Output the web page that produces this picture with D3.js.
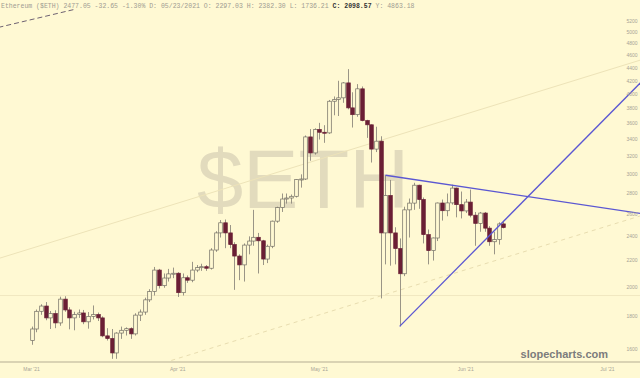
<!DOCTYPE html>
<html><head><meta charset="utf-8">
<script src="https://cdn.jsdelivr.net/npm/d3@7"></script>
<style>html,body{margin:0;padding:0;background:#fff9d3;}svg{display:block}</style>
</head><body><svg id="c" width="640" height="378"></svg>
<script>
// ---- data ----
const dates = [
"2021-03-06","2021-03-07","2021-03-08","2021-03-09","2021-03-10","2021-03-11","2021-03-12","2021-03-13","2021-03-14","2021-03-15",
"2021-03-16","2021-03-17","2021-03-18","2021-03-19","2021-03-20","2021-03-21","2021-03-22","2021-03-23","2021-03-24","2021-03-25",
"2021-03-26","2021-03-27","2021-03-28","2021-03-29","2021-03-30","2021-03-31","2021-04-01","2021-04-02","2021-04-03","2021-04-04",
"2021-04-05","2021-04-06","2021-04-07","2021-04-08","2021-04-09","2021-04-10","2021-04-11","2021-04-12","2021-04-13","2021-04-14",
"2021-04-15","2021-04-16","2021-04-17","2021-04-18","2021-04-19","2021-04-20","2021-04-21","2021-04-22","2021-04-23","2021-04-24",
"2021-04-25","2021-04-26","2021-04-27","2021-04-28","2021-04-29","2021-04-30","2021-05-01","2021-05-02","2021-05-03","2021-05-04",
"2021-05-05","2021-05-06","2021-05-07","2021-05-08","2021-05-09","2021-05-10","2021-05-11","2021-05-12","2021-05-13","2021-05-14",
"2021-05-15","2021-05-16","2021-05-17","2021-05-18","2021-05-19","2021-05-20","2021-05-21","2021-05-22","2021-05-23","2021-05-24",
"2021-05-25","2021-05-26","2021-05-27","2021-05-28","2021-05-29","2021-05-30","2021-05-31","2021-06-01","2021-06-02","2021-06-03",
"2021-06-04","2021-06-05","2021-06-06","2021-06-07","2021-06-08","2021-06-09","2021-06-10","2021-06-11","2021-06-12","2021-06-13",
"2021-06-14"];
const opens = [
1650,1720,1833,1868,1790,1818,1758,1915,1842,1790,
1812,1822,1765,1800,1812,1790,1678,1662,1578,1695,
1712,1722,1690,1808,1828,1910,1968,2126,2010,2066,
2097,2102,1960,2068,2050,2126,2145,2152,2140,2285,
2430,2520,2430,2330,2236,2166,2326,2360,2392,2362,
2212,2316,2535,2662,2745,2755,2772,2945,2950,3432,
3240,3525,3490,3482,3902,3928,3950,4168,3810,3718,
4080,3640,3585,3285,3380,2430,2780,2430,2297,2098,
2640,2705,2885,2740,2415,2280,2386,2706,2632,2707,
2855,2690,2630,2715,2590,2515,2610,2472,2354,2372,
2510];
const highs = [
1735,1845,1880,1895,1835,1840,1932,1935,1860,1830,
1845,1842,1828,1872,1825,1800,1725,1720,1700,1735,
1730,1730,1820,1845,1925,1985,2150,2135,2100,2135,
2145,2110,2100,2085,2190,2165,2175,2165,2300,2445,
2545,2550,2500,2350,2250,2340,2400,2640,2430,2370,
2330,2540,2670,2800,2800,2790,2950,3000,3450,3530,
3540,3610,3580,3920,3970,4200,4180,4380,4030,4150,
4115,3650,3590,3560,3440,2990,2940,2480,2382,2670,
2750,2910,2890,2760,2460,2390,2710,2740,2800,2890,
2860,2820,2745,2840,2620,2620,2620,2490,2440,2525,
2535];
const lows = [
1625,1700,1810,1775,1720,1725,1740,1830,1718,1712,
1790,1750,1722,1780,1770,1670,1650,1545,1545,1660,
1680,1660,1680,1770,1810,1895,1940,1990,1995,2040,
2065,1930,1940,2030,2035,2110,2120,2120,2130,2270,
2390,2300,2300,1980,2050,2040,2250,2320,2100,2165,
2180,2300,2520,2620,2700,2700,2760,2860,2940,3150,
3220,3400,3360,3470,3710,3700,3880,3790,3550,3690,
3630,3420,3130,3250,1920,2170,2160,2170,1736,2080,
2390,2640,2650,2340,2170,2200,2360,2540,2580,2690,
2570,2560,2610,2570,2320,2440,2440,2320,2250,2330,
2470];
const closes = [
1720,1833,1868,1790,1818,1758,1915,1842,1790,1812,
1822,1765,1800,1812,1790,1678,1662,1578,1695,1712,
1722,1690,1808,1828,1910,1968,2126,2010,2066,2097,
2102,1960,2068,2050,2126,2145,2152,2140,2285,2430,
2520,2430,2330,2236,2166,2326,2360,2392,2362,2212,
2316,2535,2662,2745,2755,2772,2945,2950,3432,3240,
3525,3490,3482,3902,3928,3950,4168,3810,3718,4080,
3640,3585,3285,3380,2430,2780,2430,2297,2098,2640,
2705,2885,2740,2415,2280,2386,2706,2632,2707,2855,
2690,2630,2715,2590,2515,2610,2472,2354,2372,2510,
2477];
const priceTicks = [1600,1800,2000,2200,2400,2600,2800,3000,3200,3400,3600,3800,4000,4200,4400,4600,4800,5000,5200];
const monthTickDates = ["2021-03-06","2021-04-06","2021-05-06","2021-06-06","2021-07-06"];
const monthTickLabels = ["Mar '21","Apr '21","May '21","Jun '21","Jul '21"];
// annotation lines: [date, price] anchors
const blueRising = [["2021-05-23",1736],["2021-07-14",4240]];
const blueFalling = [["2021-05-20",2990],["2021-07-14",2600]];
const faintChannelTop = [["2021-02-27",2216],["2021-07-14",4548]];
const faintChannelBottom = [["2021-04-03",1523],["2021-07-14",2597]];
const faintLevel = [["2021-02-27",1940],["2021-07-14",1940]];
const darkDashed = [["2021-02-27",5089],["2021-03-15",5427]];
const headerParts = [
  {t:"Ethereum ($ETH) 2477.05 -32.65 -1.30% D: 05/23/2021 O: 2297.03 H: 2382.30 L: 1736.21 ", b:false},
  {t:"C: 2098.57", b:true},
  {t:" Y: 4863.18", b:false}];

// ---- chart ----
const parse = d3.timeParse("%Y-%m-%d");
const W = 640, H = 378, plotBottom = 362, plotTop = 9;
const svg = d3.select("#c");
const bg = "#fff9d3";
svg.append("rect").attr("width",W).attr("height",H).attr("fill",bg);

const x = d3.scaleTime().domain([parse("2021-03-06"), parse("2021-07-06")]).range([31.5, 607.3]);
const y = d3.scaleLog().domain([1600, 5200]).range([349.1, 21.4]);

svg.append("defs").append("clipPath").attr("id","plot")
  .append("rect").attr("x",0).attr("y",plotTop).attr("width",W).attr("height",plotBottom-plotTop);

// watermark
svg.append("text").attr("x",303).attr("y",208).attr("text-anchor","middle")
  .attr("font-family","Liberation Sans, Arial, sans-serif").attr("font-size",83)
  .attr("fill","#e2dbbd").text("$ETH");

const plot = svg.append("g").attr("clip-path","url(#plot)");
const line = d3.line().x(d=>x(parse(d[0]))).y(d=>y(d[1]));

plot.append("path").datum(faintChannelTop).attr("d",line).attr("fill","none")
  .attr("stroke","#ede3b8").attr("stroke-width",1);
plot.append("path").datum(faintLevel).attr("d",line).attr("fill","none")
  .attr("stroke","#f1e8c0").attr("stroke-width",1);
plot.append("path").datum(faintChannelBottom).attr("d",line).attr("fill","none")
  .attr("stroke","#e8ddb0").attr("stroke-width",1).attr("stroke-dasharray","4,4");
plot.append("path").datum(darkDashed).attr("d",line).attr("fill","none")
  .attr("stroke","#6e6272").attr("stroke-width",1).attr("stroke-dasharray","5,3");

const candles = dates.map((d,i)=>({date:parse(d),o:opens[i],h:highs[i],l:lows[i],c:closes[i]}));
const bw = 3.6;
const cg = plot.append("g");
cg.selectAll("line.w").data(candles).join("line").attr("class","w")
  .attr("x1",d=>Math.round(x(d.date))+0.5).attr("x2",d=>Math.round(x(d.date))+0.5)
  .attr("y1",d=>y(d.h)).attr("y2",d=>y(d.l))
  .attr("stroke","#8e897d").attr("stroke-width",0.9);
cg.selectAll("rect.b").data(candles).join("rect").attr("class","b")
  .attr("x",d=>Math.round(x(d.date))+0.5-bw/2)
  .attr("y",d=>Math.min(y(d.o),y(d.c)))
  .attr("width",bw)
  .attr("height",d=>Math.max(Math.abs(y(d.o)-y(d.c)),1))
  .attr("fill",d=>d.c>=d.o?bg:"#6b1f35")
  .attr("stroke",d=>d.c>=d.o?"#6f6b62":"#6b1f35")
  .attr("stroke-width",0.7);

plot.append("path").datum(blueRising).attr("d",line).attr("fill","none")
  .attr("stroke","#5b57d2").attr("stroke-width",1.3);
plot.append("path").datum(blueFalling).attr("d",line).attr("fill","none")
  .attr("stroke","#5b57d2").attr("stroke-width",1.3);

// right price labels
svg.append("g").selectAll("text").data(priceTicks).join("text")
  .attr("x",632).attr("y",d=>y(d)+1.8).attr("text-anchor","middle")
  .attr("font-family","Liberation Sans, Arial, sans-serif").attr("font-size",5)
  .attr("fill","#a8a496").text(d=>d);

// bottom axis
svg.append("line").attr("x1",0).attr("x2",W).attr("y1",plotBottom).attr("y2",plotBottom)
  .attr("stroke","#dad3b3").attr("stroke-width",2);
svg.append("g").selectAll("text").data(monthTickDates).join("text")
  .attr("x",d=>x(parse(d))).attr("y",371).attr("text-anchor","middle")
  .attr("font-family","Liberation Sans, Arial, sans-serif").attr("font-size",5)
  .attr("fill","#a8a496").text((d,i)=>monthTickLabels[i]);

// header
const hdr = svg.append("text").attr("x",1).attr("y",7.5)
  .attr("font-family","Liberation Mono, Courier New, monospace").attr("font-size",6.5)
  .attr("xml:space","preserve").style("white-space","pre");
headerParts.forEach(p=>{
  hdr.append("tspan").text(p.t).attr("fill",p.b?"#333":"#a09c92").attr("font-weight",p.b?"bold":"normal");
});

// site mark
svg.append("text").attr("x",608).attr("y",358).attr("text-anchor","end")
  .attr("font-family","Liberation Sans, Arial, sans-serif").attr("font-size",11)
  .attr("font-weight","bold").attr("fill","#7c7c7c").text("slopecharts.com");
</script></body></html>
